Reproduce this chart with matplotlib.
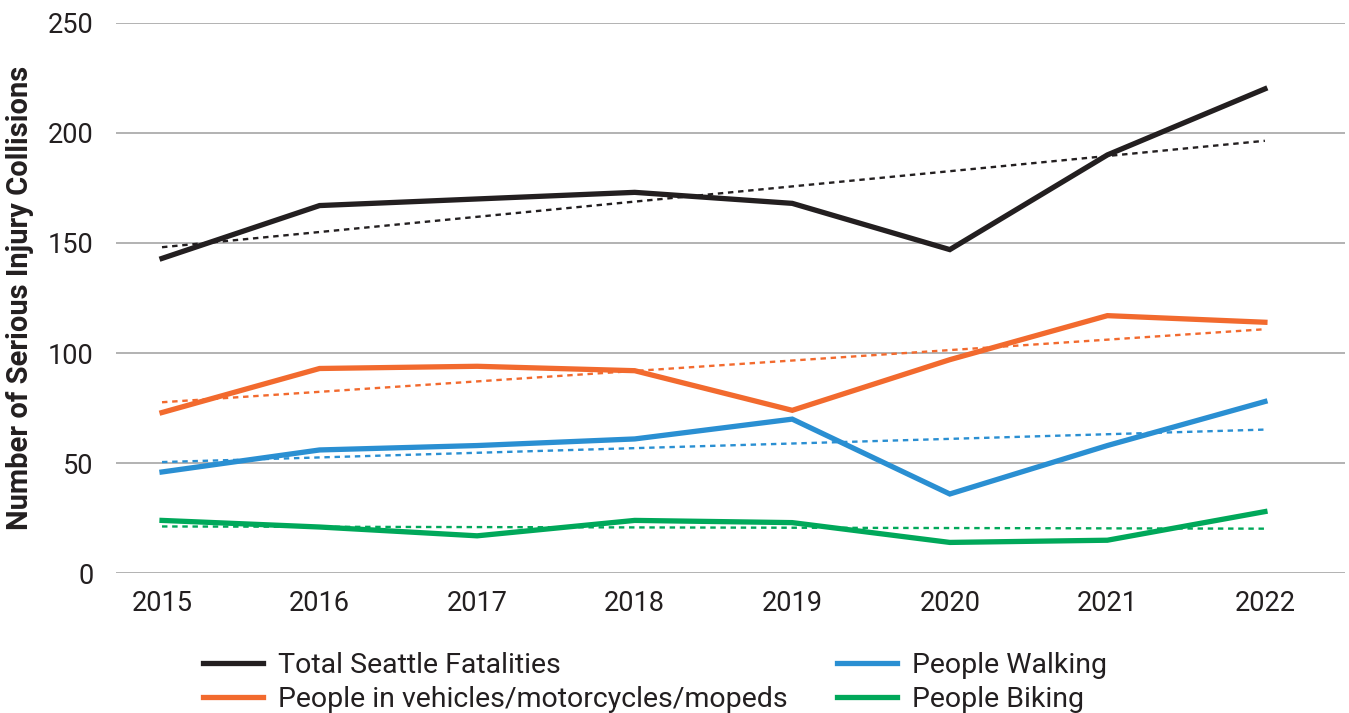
import numpy as np
import matplotlib
matplotlib.use("Agg")
from matplotlib import pyplot as plt

# ------------------ дані -----------------------
years = [2015, 2016, 2017, 2018, 2019, 2020, 2021, 2022]
total = [143, 167, 170, 173, 168, 147, 190, 220]
vehicles = [73, 93, 94, 92, 74, 97, 117, 114]
walking = [46, 56, 58, 61, 70, 36, 58, 78]
biking = [24, 21, 17, 24, 23, 14, 15, 28]

labels = ["Total Seattle Fatalities", "People in vehicles/motorcycles/mopeds",
          "People Walking", "People Biking"]
colors = ["#231f20", "#f26a2e", "#2a8fd2", "#00a85a"]

plt.rcParams['font.family'] = ['Roboto', 'DejaVu Sans']

fig = plt.figure(figsize=(13.49, 7.13), dpi=100)
ax = fig.add_axes([0.086, 0.196, 0.911, 0.772])

handles = []
x = np.array(years, dtype=float)
for vals, lab, col in zip([total, vehicles, walking, biking], labels, colors):
    h, = ax.plot(years, vals, color=col, lw=3.8, solid_joinstyle='miter', zorder=3, label=lab)
    handles.append(h)
    # лінійний тренд (як в Excel)
    k, b = np.polyfit(x, vals, 1)
    ax.plot(years, k * x + b, color=col, lw=1.7, dashes=(2.3, 2.0), zorder=2)

ax.set_xlim(2014.708, 2022.508)
ax.set_ylim(0, 250)
ax.set_yticks([0, 50, 100, 150, 200, 250])
ax.set_xticks(years)
ax.grid(axis='y', color='#a6a6a6', lw=1.2)
ax.set_axisbelow(True)
for s in ax.spines.values():
    s.set_visible(False)
ax.tick_params(axis='both', length=0, labelsize=19.5, colors='#231f20')
ax.tick_params(axis='y', pad=16)
ax.tick_params(axis='x', pad=12)
ax.set_ylabel("Number of Serious Injury Collisions", fontsize=21, fontweight='bold',
              color='#231f20', labelpad=10)

# легенда в 2 колонки
leg = fig.legend(handles, labels, ncol=2, frameon=False, loc='upper left',
                 bbox_to_anchor=(0.140, 0.106), fontsize=20.5, handlelength=2.1,
                 handletextpad=0.53, columnspacing=1.75, labelspacing=0.25, borderpad=0)
for t in leg.get_texts():
    t.set_color('#231f20')

fig.savefig("out.png", dpi=100)
